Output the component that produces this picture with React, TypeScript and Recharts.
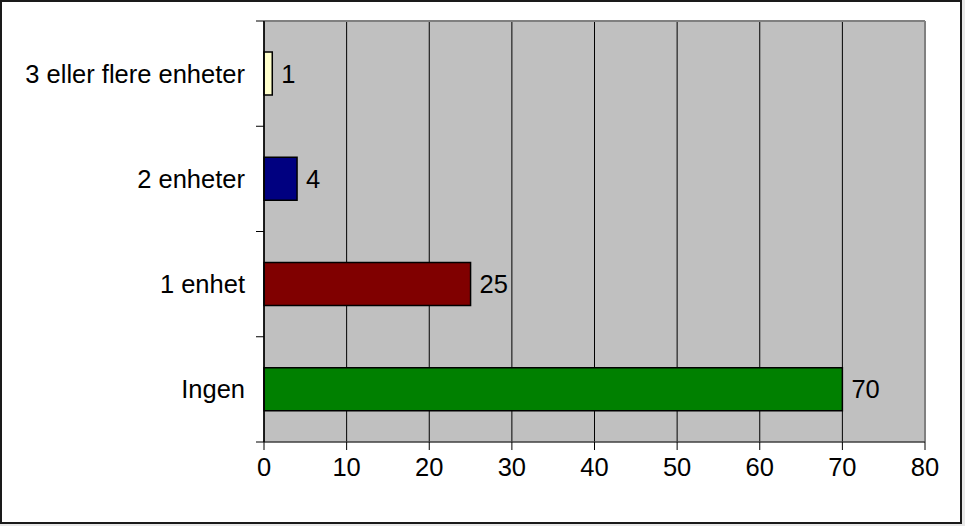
import React from 'react';
import { Bar, BarChart, CartesianGrid, Cell, LabelList, XAxis, YAxis } from 'recharts';

const categories = ['3 eller flere enheter', '2 enheter', '1 enhet', 'Ingen'];
const shares = [1, 4, 25, 70];
const barColors = ['#FFFFCC', '#000080', '#800000', '#008000'];
const xTicks = [0, 10, 20, 30, 40, 50, 60, 70, 80];

const data = categories.map((name, i) => ({ name, value: shares[i] }));

const FONT = '"Liberation Sans", Arial, Helvetica, sans-serif';
const FONT_SIZE = 25.5;
const TICK_SIZE = 8;
const TICK_GAP = 11;

// category labels sit in the middle of each band, tick marks on the band edges
const CategoryTick = (props: any) => {
  const { x, y, payload, index, visibleTicksCount } = props;
  const half = payload?.offset ?? 0;
  const axisX = x + TICK_SIZE + TICK_GAP;
  const isLast = index === visibleTicksCount - 1;
  return (
    <g>
      <line x1={axisX - TICK_SIZE} x2={axisX} y1={y - half} y2={y - half} stroke="#000" />
      {isLast && (
        <line x1={axisX - TICK_SIZE} x2={axisX} y1={y + half} y2={y + half} stroke="#000" />
      )}
      <text x={x} y={y} dy="0.355em" textAnchor="end" fill="#000" fontSize={FONT_SIZE} fontFamily={FONT}>
        {payload.value}
      </text>
    </g>
  );
};

const App = () => {
  return (
    <div style={{ position: 'absolute', left: 0, top: 0, width: 965, height: 526, background: '#e8e8e8' }}>
      <div
        style={{
          position: 'absolute',
          left: 0,
          top: 0,
          width: 962,
          height: 524,
          boxSizing: 'border-box',
          border: '2px solid #1a1a1a',
          background: '#fff',
        }}
      />
      <div style={{ position: 'absolute', left: 0, top: 0 }}>
        <BarChart
          width={965}
          height={526}
          data={data}
          layout="vertical"
          margin={{ top: 21, right: 40, bottom: 0, left: 0 }}
          style={{ fontFamily: FONT }}
        >
          <CartesianGrid horizontal={false} stroke="#000" fill="#C0C0C0" fillOpacity={1} />
          <CartesianGrid
            fill="none"
            stroke="#808080"
            strokeWidth={2}
            horizontalCoordinatesGenerator={({ offset }: any) => [offset.top]}
            verticalCoordinatesGenerator={({ offset }: any) => [offset.left + offset.width]}
          />
          <XAxis
            type="number"
            domain={[0, 80]}
            ticks={xTicks}
            height={84}
            tickSize={TICK_SIZE}
            tickMargin={8}
            axisLine={{ stroke: '#404040', strokeWidth: 1.5 }}
            tickLine={{ stroke: '#000' }}
            tick={{ fill: '#000', fontSize: FONT_SIZE, fontFamily: FONT }}
          />
          <YAxis
            type="category"
            dataKey="name"
            width={264}
            tickSize={TICK_SIZE}
            tickMargin={TICK_GAP}
            tickLine={false}
            axisLine={{ stroke: '#000', strokeWidth: 1.5 }}
            tick={<CategoryTick />}
            interval={0}
          />
          <Bar dataKey="value" barSize={43} stroke="#000" strokeWidth={1.5} isAnimationActive={false}>
            {data.map((d, i) => (
              <Cell key={d.name} fill={barColors[i]} />
            ))}
            <LabelList
              dataKey="value"
              position="right"
              offset={9}
              fill="#000"
              fontSize={FONT_SIZE}
              fontFamily={FONT}
            />
          </Bar>
        </BarChart>
      </div>
    </div>
  );
};

export default App;
